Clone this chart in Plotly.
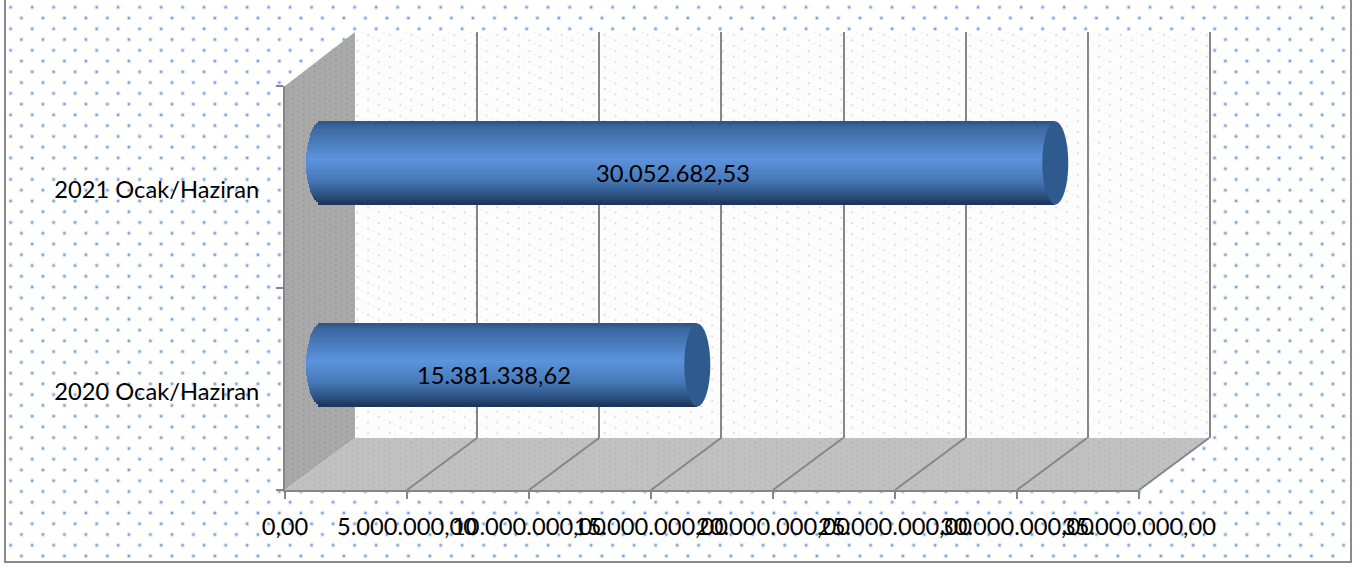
import base64
import plotly.graph_objects as go

# ---- data ----
categories = ["2020 Ocak/Haziran", "2021 Ocak/Haziran"]
values = [15381338.62, 30052682.53]
value_labels = ["15.381.338,62", "30.052.682,53"]
tick_values = [0, 5000000, 10000000, 15000000, 20000000, 25000000, 30000000, 35000000]
tick_labels = ["0,00", "5.000.000,00", "10.000.000,00", "15.000.000,00", "20.000.000,00",
               "25.000.000,00", "30.000.000,00", "35.000.000,00"]

# ---- layout constants (pixels) ----
W, H = 1369, 567
FX0, FX1, FY0, FY1 = 285, 1139, 490, 86      # front plane
BX0, BX1, BY0, BY1 = 355, 1210, 438, 32      # back plane
SX, SY = 37, 24                              # offset of the bars from the front plane
GRID = "#868686"
FONT = "Lato, Carlito, Calibri, sans-serif"
FONT_SIZE = 23.7
XMAX = 35000000
PX_PER_UNIT = (FX1 - FX0) / XMAX
BAR_PX = 83
BAND_PX = 2
LEFT_RX = 16
CAP_RX = 13
PAD_PX = LEFT_RX + 4
BACK_PAD_PX = 4

px = lambda x: x / W
py = lambda y: 1 - y / H


def shade(t):
    stops = [(0.0, (44, 82, 132)), (0.05, (58, 102, 158)), (0.45, (91, 147, 220)),
             (0.70, (72, 122, 186)), (0.90, (43, 80, 130)), (1.0, (28, 52, 88))]
    for (a, ca), (b, cb) in zip(stops, stops[1:]):
        if t <= b:
            f = (t - a) / (b - a)
            return "rgb(%d,%d,%d)" % tuple(round(u + (v - u) * f) for u, v in zip(ca, cb))
    return "rgb(28,52,88)"


# ---- textured background, as a single SVG ----
def poly(points):
    return " ".join(f"{x},{y}" for x, y in points)


svg = f"""<svg xmlns='http://www.w3.org/2000/svg' width='{W}' height='{H}' viewBox='0 0 {W} {H}'>
<defs>
<pattern id='page' width='21.5' height='21.52' patternUnits='userSpaceOnUse' x='10.65' y='7.3'>
 <circle cx='0' cy='0' r='2.4' fill='#dbe7f6'/><circle cx='21.5' cy='0' r='2.4' fill='#dbe7f6'/>
 <circle cx='0' cy='21.52' r='2.4' fill='#dbe7f6'/><circle cx='21.5' cy='21.52' r='2.4' fill='#dbe7f6'/>
 <circle cx='10.75' cy='10.76' r='2.4' fill='#dbe7f6'/>
 <circle cx='0' cy='0' r='1.25' fill='#6f9fdc'/><circle cx='21.5' cy='0' r='1.25' fill='#6f9fdc'/>
 <circle cx='0' cy='21.52' r='1.25' fill='#6f9fdc'/><circle cx='21.5' cy='21.52' r='1.25' fill='#6f9fdc'/>
 <circle cx='10.75' cy='10.76' r='1.25' fill='#6f9fdc'/>
</pattern>
<pattern id='back' width='21.5' height='10.76' patternUnits='userSpaceOnUse'>
 <rect width='21.5' height='10.76' fill='#fdfdfe'/>
 <circle cx='2.7' cy='2.7' r='1' fill='#d2d3d6'/><circle cx='13.4' cy='8' r='1' fill='#d2d3d6'/>
 <circle cx='8' cy='5.4' r='.7' fill='#e6e7e8'/><circle cx='18.8' cy='0.6' r='.7' fill='#e6e7e8'/>
</pattern>
<pattern id='side' width='10.75' height='5.38' patternUnits='userSpaceOnUse'>
 <rect width='10.75' height='5.38' fill='#a9a9a9'/>
 <circle cx='2.7' cy='1.3' r='.7' fill='#868686'/><circle cx='8' cy='4' r='.7' fill='#929292'/>
</pattern>
<pattern id='floor' width='10.75' height='5.38' patternUnits='userSpaceOnUse'>
 <rect width='10.75' height='5.38' fill='#c1c1c1'/>
 <circle cx='2.7' cy='1.3' r='.7' fill='#a6a6a6'/><circle cx='8' cy='4' r='.7' fill='#b0b0b0'/>
</pattern>
</defs>
<rect x='6' y='0' width='1345' height='561' fill='url(#page)'/>
<rect x='{BX0}' y='{BY1}' width='{BX1 - BX0}' height='{BY0 - BY1}' fill='url(#back)'/>
<polygon points='{poly([(FX0, FY1), (BX0, BY1), (BX0, BY0), (FX0, FY0)])}' fill='url(#side)'/>
<polygon points='{poly([(FX0, FY0), (BX0, BY0), (BX1, BY0), (FX1, FY0)])}' fill='url(#floor)'/>
</svg>"""
svg_uri = "data:image/svg+xml;base64," + base64.b64encode(svg.encode()).decode()

fig = go.Figure()

# invisible traces so the back-wall and front axes are built
fig.add_trace(go.Scatter(x=[0], y=[0], mode="markers", marker=dict(opacity=0), hoverinfo="skip",
                         showlegend=False, xaxis="x", yaxis="y"))
fig.add_trace(go.Scatter(x=[0], y=[categories[0]], mode="markers", marker=dict(opacity=0), hoverinfo="skip",
                         showlegend=False, xaxis="x2", yaxis="y2"))

# ---- cylinder body: stacked thin bars give the gradient and the rounded left end ----
n_bands = BAR_PX // BAND_PX
cat_h = (FY0 - FY1) / 2                 # pixels per category
band_w = (BAR_PX / n_bands) / cat_h
for k in range(n_bands):
    t = (k + 0.5) / n_bands             # 0 = bottom, 1 = top in axis terms
    u = 2 * t - 1
    base_val = -LEFT_RX * (1 - u * u) ** 0.5 / PX_PER_UNIT
    fig.add_trace(go.Bar(
        y=categories, x=[v - base_val for v in values], base=[base_val] * len(values),
        orientation="h", width=band_w * 1.08, offset=(k - n_bands / 2) * band_w,
        marker=dict(color=shade(1 - t), line=dict(width=0)),
        hoverinfo="skip", showlegend=False, cliponaxis=False,
        xaxis="x3", yaxis="y3",
    ))

shapes = []
# floor diagonals and the frame
for v in tick_values[1:]:
    f = v * PX_PER_UNIT
    shapes.append(dict(type="line", xref="paper", yref="paper", layer="below",
                       x0=px(FX0 + f), y0=py(FY0), x1=px(BX0 + f), y1=py(BY0),
                       line=dict(color=GRID, width=2)))
shapes.append(dict(type="rect", xref="paper", yref="paper", layer="below",
                   x0=px(5), x1=px(1351), y0=py(562), y1=py(-3),
                   line=dict(color="#8a8a8a", width=2), fillcolor="rgba(0,0,0,0)"))
# end caps of the cylinders
half = BAR_PX / 2 / cat_h
for i, v in enumerate(values):
    shapes.append(dict(type="circle", xref="x3", yref="y3", xsizemode="pixel", xanchor=v,
                       x0=-CAP_RX, x1=CAP_RX, y0=i - half, y1=i + half,
                       fillcolor="#2f5a8e", line=dict(width=0), layer="above"))

annotations = [
    dict(xref="x3", yref="y3", x=v / 2, y=i, text=lab, showarrow=False, xshift=-16, yshift=-9.5,
         font=dict(family=FONT, size=FONT_SIZE, color="#000000"))
    for i, (v, lab) in enumerate(zip(values, value_labels))
]

cat_range = [-0.5, 1.5]
fig.update_layout(
    width=W, height=H, margin=dict(l=0, r=0, t=0, b=0), autosize=False,
    paper_bgcolor="#ffffff", plot_bgcolor="rgba(0,0,0,0)",
    barmode="overlay", showlegend=False, bargap=0,
    font=dict(family=FONT, size=FONT_SIZE, color="#000000"),
    images=[dict(source=svg_uri, xref="paper", yref="paper", x=0, y=1, sizex=1, sizey=1,
                 sizing="stretch", xanchor="left", yanchor="top", layer="below")],
    shapes=shapes, annotations=annotations,
    # back wall gridlines (axis runs a little past the last line so that line is kept)
    xaxis=dict(domain=[px(BX0), px(BX1 + BACK_PAD_PX)],
               range=[0, XMAX + BACK_PAD_PX / PX_PER_UNIT], tickmode="array", tickvals=tick_values[1:],
               showgrid=True, gridcolor=GRID, gridwidth=2.4, showticklabels=False, ticks="",
               showline=False, zeroline=False, anchor="y"),
    yaxis=dict(domain=[py(BY0), py(BY1)], range=[0, 1], showgrid=False, showticklabels=False,
               ticks="", showline=False, zeroline=False, anchor="x"),
    # front axes with the ticks and labels
    xaxis2=dict(domain=[px(FX0), px(FX1)], range=[0, XMAX], tickmode="array", tickvals=tick_values,
                ticktext=tick_labels, tickangle=0, ticks="outside", ticklen=7, tickwidth=2,
                tickcolor=GRID, showline=True, linecolor=GRID, linewidth=2, showgrid=False,
                zeroline=False, anchor="y2", ticklabelstandoff=8, ticklabeloverflow="allow",
                automargin=False),
    yaxis2=dict(domain=[py(FY0), py(FY1)], type="category", categoryorder="array",
                categoryarray=categories, range=cat_range, tickmode="array", tickvals=categories,
                ticktext=categories, tickson="boundaries", ticks="outside", ticklen=7, tickwidth=2,
                tickcolor=GRID, showline=True, linecolor=GRID, linewidth=2, showgrid=False,
                zeroline=False, anchor="x2", ticklabelstandoff=19, ticklabelshift=3, automargin=False),
    # axes that carry the cylinders, shifted by the half depth; extended left for the rounded end
    xaxis3=dict(domain=[px(FX0 + SX - PAD_PX), px(FX1 + SX)], range=[-PAD_PX / PX_PER_UNIT, XMAX],
                visible=False, anchor="y3"),
    yaxis3=dict(domain=[py(FY0 - SY), py(FY1 - SY)], type="category", categoryorder="array",
                categoryarray=categories, range=cat_range, visible=False, anchor="x3"),
)

fig.write_html("out.html", config={"displayModeBar": False},
               post_script="document.body.style.margin='0';document.body.style.overflow='hidden';")
